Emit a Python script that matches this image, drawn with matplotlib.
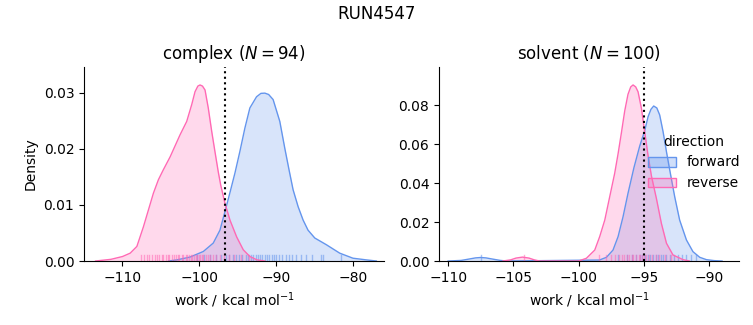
import matplotlib
matplotlib.use("Agg")
import matplotlib.pyplot as plt
from matplotlib.patches import Patch

# KDE curves (work, density)
cplx_fwd_x = [-104.0, -102.94, -101.22, -99.49, -98.2, -97.33, -96.68, -96.03, -95.38, -94.73,
              -94.09, -93.44, -92.57, -92.0, -91.49, -91.0, -90.42, -89.55, -88.9, -88.34,
              -87.82, -87.17, -86.52, -85.88, -85.0, -83.49, -81.76, -80.04, -78.3, -77.0]
cplx_fwd_y = [0.0, 0.0002, 0.0007, 0.0017, 0.0032, 0.0055, 0.0088, 0.0122, 0.0157, 0.0196,
              0.0237, 0.0273, 0.0293, 0.0299, 0.02994, 0.0297, 0.0288, 0.0249, 0.0201, 0.0162,
              0.0127, 0.0097, 0.0073, 0.0055, 0.0041, 0.0029, 0.0014, 0.0005, 0.0002, 0.0]
cplx_rev_x = [-113.5, -111.5, -110.0, -109.0, -108.13, -107.28, -106.63, -105.98, -105.33, -104.68,
              -103.8, -102.52, -101.65, -101.0, -100.57, -100.2, -99.92, -99.6, -99.27, -98.85,
              -98.4, -97.98, -97.55, -97.24, -96.68, -96.03, -95.16, -94.3, -93.44, -92.5, -91.5]
cplx_rev_y = [0.0, 0.0003, 0.0008, 0.0014, 0.0026, 0.0061, 0.0091, 0.0121, 0.0145, 0.0163,
              0.0186, 0.0225, 0.0249, 0.0279, 0.0302, 0.0312, 0.0314, 0.0312, 0.0305, 0.0273,
              0.0231, 0.0195, 0.0159, 0.0136, 0.0103, 0.0073, 0.0043, 0.002, 0.0008, 0.0002, 0.0]

solv_fwd_x = [-110.0, -109.0, -108.4, -107.9, -107.5, -107.1, -106.6, -106.0, -105.5, -98.4,
              -97.86, -97.36, -96.97, -96.59, -96.21, -95.75, -95.31, -94.93, -94.67, -94.45,
              -94.24, -94.0, -93.78, -93.52, -93.26, -93.01, -92.63, -92.25, -91.73, -91.23,
              -90.71, -90.2, -89.6, -89.0]
solv_fwd_y = [0.0, 0.0003, 0.0010, 0.0016, 0.0018, 0.0016, 0.0010, 0.0003, 0.0, 0.0005,
              0.0019, 0.0056, 0.0125, 0.0227, 0.0347, 0.0480, 0.0590, 0.0668, 0.0740, 0.0778,
              0.0795, 0.0785, 0.0749, 0.0663, 0.0560, 0.0467, 0.0330, 0.0210, 0.0108, 0.0048,
              0.0019, 0.0007, 0.0002, 0.0]
solv_rev_x = [-105.8, -105.2, -104.8, -104.3, -103.8, -103.4, -103.0, -100.0, -99.4, -98.76,
              -98.38, -97.99, -97.61, -97.23, -96.97, -96.71, -96.46, -96.21, -96.0, -95.82,
              -95.62, -95.44, -95.18, -94.93, -94.67, -94.41, -94.03, -93.65, -93.26, -92.76,
              -91.99, -91.5]
solv_rev_y = [0.0, 0.0006, 0.0015, 0.0020, 0.0015, 0.0006, 0.0, 0.0, 0.0014, 0.0056,
              0.0125, 0.0210, 0.0330, 0.0450, 0.0550, 0.0660, 0.0770, 0.0855, 0.0893, 0.0903,
              0.0893, 0.0868, 0.0783, 0.0663, 0.0540, 0.0435, 0.0320, 0.0193, 0.0091, 0.0031,
              0.0007, 0.0]

# rug samples (estimated)
cplx_fwd_rug = [-100.3, -99.4, -98.6, -97.9, -97.2, -96.6, -96.1, -95.6, -95.2, -94.8, -94.4, -94.0,
                -93.7, -93.3, -93.0, -92.7, -92.4, -92.1, -91.8, -91.5, -91.2, -90.9, -90.6, -90.3,
                -90.0, -89.6, -89.2, -88.8, -88.3, -87.9, -87.4, -86.8, -86.1, -85.3, -84.2, -83.9, -81.6]
cplx_rev_rug = [-107.6, -107.2, -106.8, -106.5, -106.1, -105.8, -105.5, -105.2, -104.9, -104.7, -104.4,
                -104.1, -103.9, -103.6, -103.3, -103.1, -102.8, -102.6, -102.3, -102.1, -101.8, -101.6,
                -101.4, -101.1, -100.9, -100.7, -100.5, -100.3, -100.1, -99.9, -99.7, -99.5, -99.2,
                -98.9, -98.6, -98.2, -97.8, -97.3, -96.8, -96.2, -95.5, -94.6, -93.6]
solv_fwd_rug = [-107.5, -97.0, -96.3, -95.9, -95.6, -95.3, -95.1, -94.9, -94.7, -94.5, -94.3, -94.1,
                -93.9, -93.7, -93.5, -93.3, -93.0, -92.7, -92.4, -92.1, -91.8, -91.4, -91.0]
solv_rev_rug = [-104.2, -98.4, -97.9, -97.5, -97.2, -96.9, -96.7, -96.5, -96.3, -96.1, -95.9, -95.8,
                -95.6, -95.4, -95.3, -95.1, -95.0, -94.8, -94.6, -94.4, -94.1, -93.8, -93.4, -92.9]

cplx_dg = -96.7
solv_dg = -95.0

blue = "#6495ED"
pink = "#FF69B4"

fig = plt.figure(figsize=(7.53, 3.25), dpi=100)
ax1 = fig.add_axes([0.1116, 0.1969, 0.3984, 0.5969])
ax2 = fig.add_axes([0.583, 0.1969, 0.3984, 0.5969])


def draw(ax, fx, fy, rx, ry, frug, rrug, dg, title, xlim, ylim):
    for x, y, rug, c in [(fx, fy, frug, blue), (rx, ry, rrug, pink)]:
        ax.fill_between(x, y, color=c, alpha=0.25, lw=0)
        ax.plot(x, y, color=c, lw=1)
        for v in rug:
            ax.axvline(v, ymin=0, ymax=0.03, color=c, lw=1, alpha=0.55)
    ax.axvline(dg, color="k", ls=":", lw=1.5)
    ax.set_xlim(*xlim)
    ax.set_ylim(*ylim)
    ax.set_title(title, fontsize=12)
    ax.set_xlabel("work / kcal mol$^{-1}$")
    ax.spines["top"].set_visible(False)
    ax.spines["right"].set_visible(False)


draw(ax1, cplx_fwd_x, cplx_fwd_y, cplx_rev_x, cplx_rev_y, cplx_fwd_rug, cplx_rev_rug,
     cplx_dg, "complex ($N = 94$)", (-115, -76), (0, 0.0346))
ax1.set_ylabel("Density")
ax1.set_yticks([0, 0.01, 0.02, 0.03])
ax1.set_xticks([-110, -100, -90, -80])

draw(ax2, solv_fwd_x, solv_fwd_y, solv_rev_x, solv_rev_y, solv_fwd_rug, solv_rev_rug,
     solv_dg, "solvent ($N = 100$)", (-110.7, -87.7), (0, 0.0995))
ax2.set_yticks([0, 0.02, 0.04, 0.06, 0.08])
ax2.set_xticks([-110, -105, -100, -95, -90])

handles = [Patch(facecolor=(0.39, 0.58, 0.93, 0.3), edgecolor=blue),
           Patch(facecolor=(1.0, 0.41, 0.71, 0.3), edgecolor=pink)]
fig.legend(handles, ["forward", "reverse"], title="direction", loc="center right",
           bbox_to_anchor=(1.0, 0.5), frameon=False, fontsize=10, title_fontsize=10)

fig.suptitle("RUN4547", fontsize=12, y=0.985)
fig.savefig("out.png", dpi=100)
